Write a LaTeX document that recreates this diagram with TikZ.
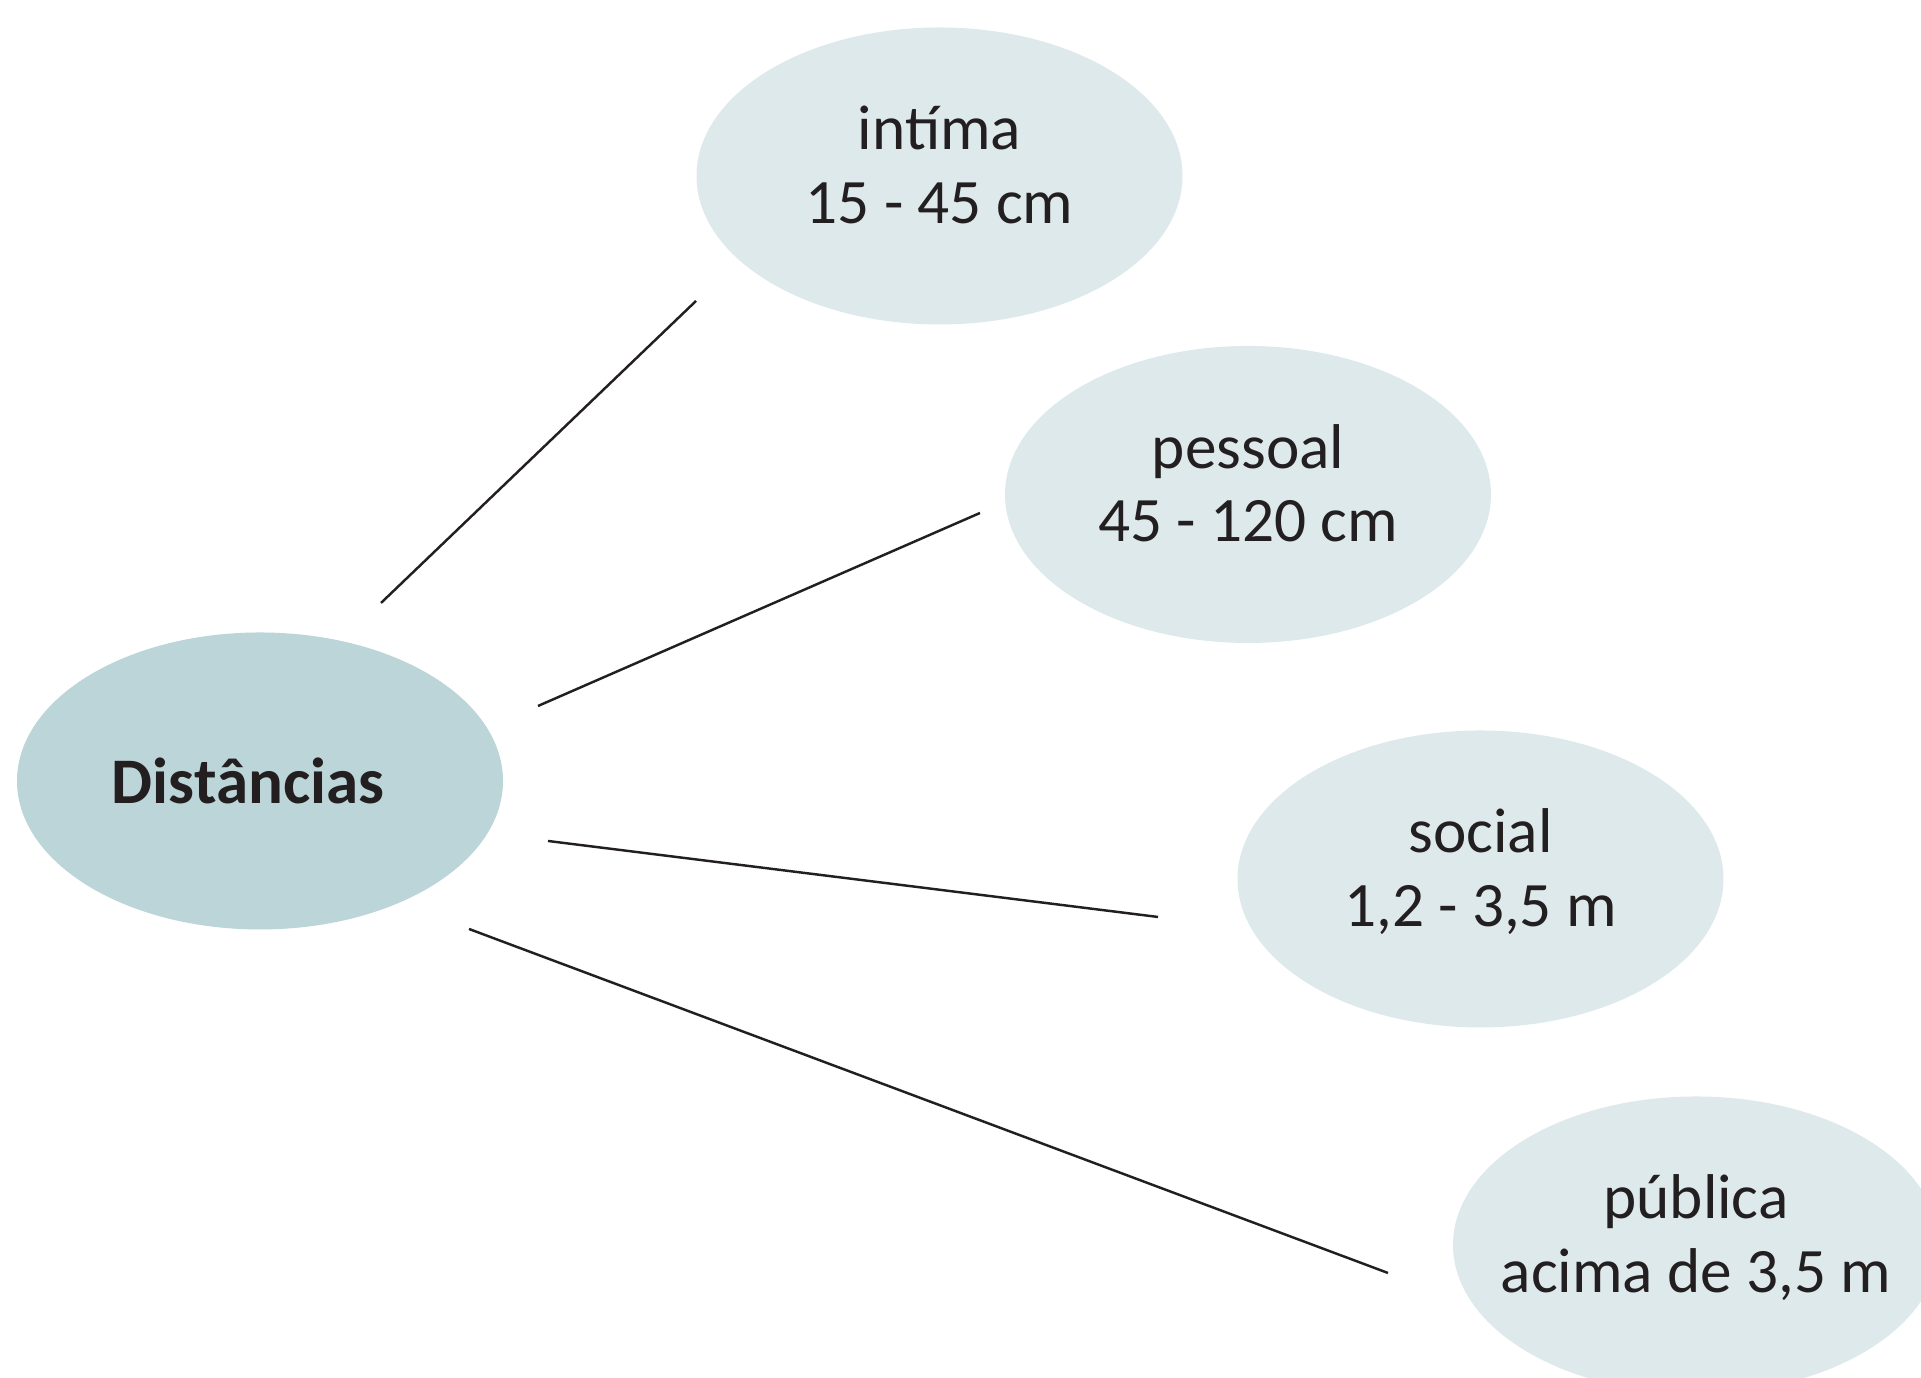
\documentclass[tikz,border=0pt]{standalone}
\usepackage{fontspec}
\setmainfont{Carlito}
\usepackage{tikz}
\usetikzlibrary{shapes}
\definecolor{pale}{HTML}{DDE9EB}
\definecolor{dark}{HTML}{BCD5D8}
\definecolor{ink}{HTML}{231F20}
\tikzstyle{blob}=[ellipse,inner xsep=-0.3cm,inner ysep=0pt,minimum width=4.86cm,minimum height=2.97cm,text=ink,align=center,font=\fontsize{18}{21}\selectfont]
\tikzstyle{zone}=[blob,fill=pale,text depth=0.65em]
\tikzstyle{hub}=[blob,fill=dark,font=\fontsize{18.5}{21}\selectfont\bfseries]
\tikzstyle{link}=[ink,line width=0.7pt]

\begin{document}
\begin{tikzpicture}
\useasboundingbox (0,0) rectangle (19.21,13.78);
\node[hub] (d) at (2.60,5.97) {Distâncias\hspace*{0.24cm}};
\node[zone] (i) at (9.395,12.02) {intíma\\15 - 45 cm};
\node[zone] (p) at (12.48,8.835) {pessoal\\45 - 120 cm};
\node[zone] (s) at (14.805,4.99) {social\\1,2 - 3,5 m};
\node[zone] (u) at (16.96,1.33) {pública\\acima de 3,5 m};
\coordinate (d1) at (3.81,7.75);
\coordinate (d2) at (5.38,6.72);
\coordinate (d3) at (5.48,5.37);
\coordinate (d4) at (4.69,4.49);
\coordinate (i1) at (6.96,10.77);
\coordinate (p1) at (9.80,8.65);
\coordinate (s1) at (11.58,4.61);
\coordinate (u1) at (13.88,1.05);
\draw[link] (d1) -- (i1);
\draw[link] (d2) -- (p1);
\draw[link] (d3) -- (s1);
\draw[link] (d4) -- (u1);
\end{tikzpicture}
\end{document}
